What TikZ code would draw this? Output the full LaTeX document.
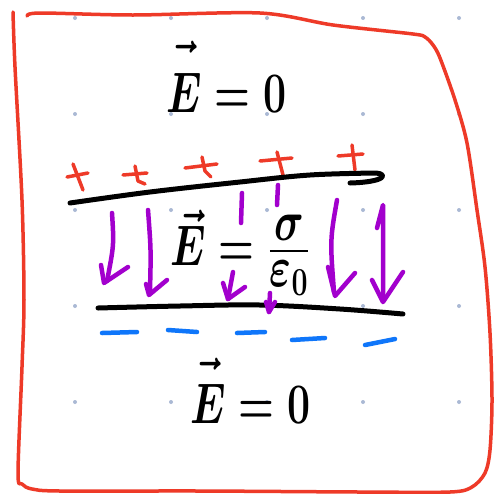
\documentclass[tikz,border=0pt]{standalone}
\usepackage{amsmath}
\definecolor{handred}{RGB}{238,58,40}
\definecolor{handpurple}{RGB}{162,0,205}
\definecolor{handblue}{RGB}{15,118,250}
\definecolor{dotgray}{RGB}{170,185,212}
\newcommand{\bigeq}[1]{\scalebox{1.65}[2.3]{\fontsize{25}{30}\selectfont\boldmath$#1$}}
\newcommand{\liftE}[1]{\vec{\rule{0pt}{#1}E}}
\tikzset{
  border/.style={draw=handred, line width=3.5pt, line cap=round, line join=round},
  plate/.style={draw=black, line width=5pt, line cap=round, line join=round},
  plussign/.style={draw=handred, line width=3.5pt, line cap=round, line join=round},
  minussign/.style={draw=handblue, line width=4.5pt, line cap=round},
  field/.style={draw=handpurple, line width=4.5pt, line cap=round, line join=round},
  griddot/.style={fill=dotgray, draw=none},
  eq/.style={inner sep=0pt, text=black}
}
\begin{document}
\begin{tikzpicture}[x=1pt,y=-1pt]
\useasboundingbox (0,0) rectangle (502,493);
\fill[white] (0,0) rectangle (502,493);
% grid dots
\foreach \x in {75,171,267,363,459}
  \foreach \y in {18,114,210,306,402}
    \fill[griddot] (\x,\y) circle (2pt);
% frame
\draw[border] plot[smooth, tension=0.5] coordinates {(13,12) (15,67) (22,200) (24,300) (22,367) (18,473) (22,484) (32,489) (60,491) (200,491) (360,492) (450,492) (472,487) (485,473) (490,450) (492,400) (490,333) (485,267) (477,210) (467,143) (455,100) (440,58) (433,45) (425,37) (413,34) (333,25) (260,13) (133,15) (40,13) (27,16)};
% texts
\node[eq, anchor=base west] (top) at (166,112) {\bigeq{\liftE{0.95em}=0}};
\node[eq, anchor=base west] (mid) at (170,265) {\bigeq{\vec{E}=\frac{\displaystyle\sigma}{\displaystyle\varepsilon_0}}};
\node[eq, anchor=base west] (bot) at (190,423) {\bigeq{\liftE{0.85em}=0}};
% plus charges
\draw[plussign] (67,177) -- (88,173);
\draw[plussign] (73,164) -- (78,177) -- (83,190);
\draw[plussign] (123,175) -- (147,173);
\draw[plussign] (135,166) -- (138,181) -- (145,184);
\draw[plussign] (185,168) -- (217,164);
\draw[plussign] (202,157) -- (205,171) -- (211,177);
\draw[plussign] (260,161) -- (292,158);
\draw[plussign] (277,152) -- (283,175);
\draw[plussign] (338,156) -- (363,154);
\draw[plussign] (352,145) -- (355,170);
% plates
\draw[plate] plot[smooth, tension=0.6] coordinates {(70,203) (150,192) (240,182) (310,175) (376,173)} .. controls (388,174) and (386,182) .. (350,183);
\draw[plate] plot[smooth, tension=0.6] coordinates {(98,308) (180,306) (260,305) (340,309) (403,314)};
% minus charges
\draw[minussign] (102,333) -- (137,332);
\draw[minussign] (168,330) -- (197,332);
\draw[minussign] (237,333) -- (265,332);
\draw[minussign] (292,340) -- (325,338);
\draw[minussign] (365,345) -- (395,339);
% field arrows
\draw[field] (112,213) .. controls (114,245) .. (107,281);
\draw[field] (101,265) -- (104,283) -- (128,267);
\draw[field] (148,210) .. controls (151,250) .. (150,290);
\draw[field] (146,284) -- (149,295) -- (167,280);
\draw[field] (242,193) -- (241,223);
\draw[field] (233,272) -- (228,299);
\draw[field] (223,283) -- (228,299) -- (245,287);
\draw[field] (278,185) -- (277,205);
\draw[field] (270,293) -- (269,312);
\draw[field] (266,302) -- (269,312) -- (275,302);
\draw[field] (337,200) .. controls (330,240) .. (334,292);
\draw[field] (328,267) -- (335,296) -- (355,273);
\draw[field] (377,228) -- (383,205) .. controls (383,250) .. (383,300);
\draw[field] (372,280) -- (383,302) -- (403,272);
\end{tikzpicture}
\end{document}
